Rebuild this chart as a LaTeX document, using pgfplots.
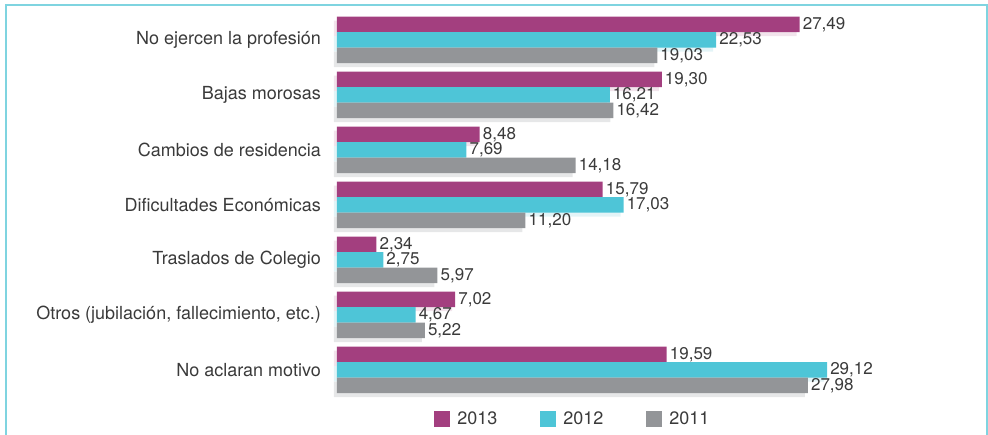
\documentclass[border=0pt]{standalone}
\usepackage{pgfplots}
\pgfplotsset{compat=1.18}
\usepackage{pgfplotstable}
\usepackage{fontspec}
\setmainfont{TeX Gyre Heros}

\definecolor{c13}{HTML}{A33F7F}
\definecolor{c12}{HTML}{4EC5D7}
\definecolor{c11}{HTML}{939598}
\definecolor{s13}{HTML}{F2E4EC}
\definecolor{s12}{HTML}{E3F4F7}
\definecolor{s11}{HTML}{E6E7E8}
\definecolor{frame}{HTML}{7FD4E0}
\definecolor{txt}{HTML}{3A3A3A}

% y = posicion de la categoria (6 = arriba)
\pgfplotstableread{
y v13 v12 v11
6 27.49 22.53 19.03
5 19.30 16.21 16.42
4 8.48 7.69 14.18
3 15.79 17.03 11.20
2 2.34 2.75 5.97
1 7.02 4.67 5.22
0 19.59 29.12 27.98
}\datatable

\pgfplotsset{
  base/.style={
    scale only axis, width=639.5pt, height=385pt,
    xbar, bar width=15.5pt,
    xmin=0, xmax=38, ymin=-0.5, ymax=6.5,
    axis line style={draw=none},
    major tick length=0pt,
    clip=false,
  },
  valor/.style={
    nodes near coords={\pgfmathprintnumber[fixed,fixed zerofill,precision=2,use comma,assume math mode=true]{\pgfplotspointmeta}},
    point meta=x,
    every node near coord/.append style={font=\fontsize{17}{19}\selectfont, text=txt, inner sep=0pt, xshift=3pt},
  },
}

\begin{document}
\begin{tikzpicture}
% sombras (desplazadas a la izquierda y abajo)
\begin{axis}[base, at={(-3pt,-4pt)}, anchor=south west, xtick=\empty, ytick=\empty]
\addplot[fill=s13, draw=none, bar shift=15.5pt] table[x=v13,y=y] {\datatable};
\addplot[fill=s12, draw=none, bar shift=0pt] table[x=v12,y=y] {\datatable};
\addplot[fill=s11, draw=none, bar shift=-15.5pt] table[x=v11,y=y] {\datatable};
\end{axis}
% barras
\begin{axis}[base, at={(0,0)}, anchor=south west,
    xtick=\empty,
    ytick={0,1,2,3,4,5,6},
    yticklabels={No aclaran motivo, {Otros (jubilación, fallecimiento, etc.)}, Traslados de Colegio,
                 Dificultades Económicas, Cambios de residencia, Bajas morosas, No ejercen la profesión},
    yticklabel style={font=\fontsize{18}{20}\selectfont, text=txt, inner sep=0pt, xshift=-16pt},
    legend columns=3,
    legend style={at={(axis cs:14.02,-0.891)}, anchor=center, draw=none, fill=none,
        font=\fontsize{18}{20}\selectfont, text=txt,
        /tikz/every odd column/.append style={column sep=5pt},
        /tikz/every even column/.append style={column sep=41pt}},
    legend image code/.code={\fill[#1,draw=none] (0pt,-8pt) rectangle (16pt,8pt);},
]
\addplot[fill=c13, draw=none, bar shift=15.5pt, valor] table[x=v13,y=y] {\datatable};
\addlegendentry{2013}
\addplot[fill=c12, draw=none, bar shift=0pt, valor] table[x=v12,y=y] {\datatable};
\addlegendentry{2012}
\addplot[fill=c11, draw=none, bar shift=-15.5pt, valor] table[x=v11,y=y] {\datatable};
\addlegendentry{2011}
\end{axis}
\draw[frame, line width=2pt] (-331.3pt,-80pt) -- (-331.3pt,392.3pt) -- (649.7pt,392.3pt) -- (649.7pt,-80pt);
\pgfresetboundingbox
\useasboundingbox (-337pt,-37.5pt) rectangle (651pt,397.5pt);
\end{tikzpicture}
\end{document}
